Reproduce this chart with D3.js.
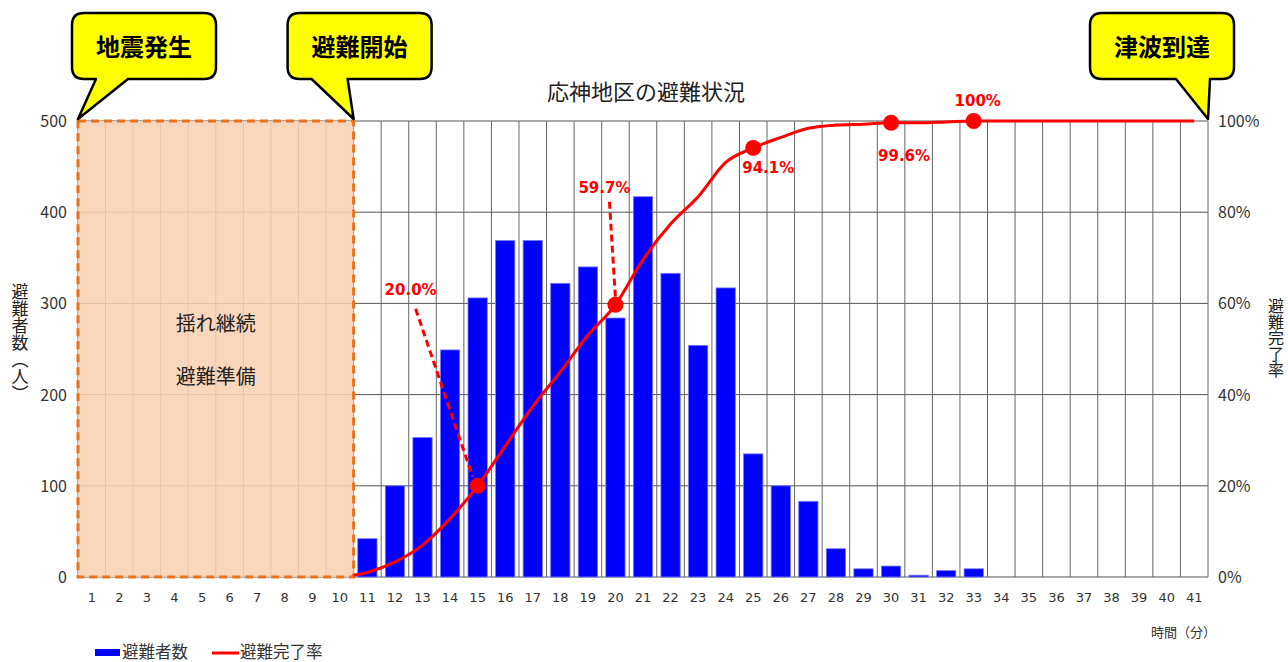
<!DOCTYPE html>
<html><head><meta charset="utf-8">
<script src="https://cdn.jsdelivr.net/npm/d3@7"></script>
<style>
html,body{margin:0;padding:0;background:#fff;}
svg{display:block;}
</style></head>
<body>
<svg id="c" width="1288" height="662"></svg>
<script>
// ---- data ----
const minutes = d3.range(1, 42);                  // 1..41 (分)
const evacuees = [0,0,0,0,0,0,0,0,0,0,
  42,100,153,249,306,369,369,322,340,284,417,333,254,317,135,100,83,31,9,12,2,7,9,
  0,0,0,0,0,0,0,0];                               // 避難者数（人）
const rateMinutes = d3.range(10, 42);             // 10..41
const completion = [0,
  1.0,3.3,7.0,12.8,20.0,28.7,37.4,45.0,53.0,59.7,69.6,77.4,83.4,90.9,94.1,96.4,98.4,99.1,99.3,99.6,99.6,99.8,100,
  100,100,100,100,100,100,100,100];               // 避難完了率（%）
const leftTicks = [0,100,200,300,400,500];
const rightTicks = [0,20,40,60,80,100];
const markedMinutes = [15,20,25,30,33];
const markLabels = ["20.0%","59.7%","94.1%","99.6%","100%"];
const callouts = [
  {text:"地震発生", minute:1, edge:"left"},
  {text:"避難開始", minute:10, edge:"right"},
  {text:"津波到達", minute:41, edge:"right"}
];

// ---- layout ----
const svg = d3.select("#c");
const L = 78, R = 1208, T = 121, B = 577;
const x = d3.scaleBand().domain(minutes).range([L, R]).paddingInner(0.3).paddingOuter(0.15);
const step = x.step();
const cx = m => x(m) + x.bandwidth()/2;
const edgeL = m => cx(m) - step/2;
const edgeR = m => cx(m) + step/2;
const y = d3.scaleLinear().domain([0,500]).range([B, T]);
const yR = d3.scaleLinear().domain([0,100]).range([B, T]);
const jp = "'Noto Sans CJK JP','Noto Sans',sans-serif";
const num = "'DejaVu Sans',Verdana,sans-serif";

// gridlines
const g = svg.append("g");
g.selectAll("line.h").data(leftTicks).join("line")
  .attr("x1", L).attr("x2", R).attr("y1", d => y(d)).attr("y2", d => y(d))
  .attr("stroke", "#555").attr("stroke-width", 1);
g.selectAll("line.v").data(d3.range(0, minutes.length + 1)).join("line")
  .attr("x1", i => i < minutes.length ? edgeL(minutes[i]) : edgeR(minutes[minutes.length-1]))
  .attr("x2", i => i < minutes.length ? edgeL(minutes[i]) : edgeR(minutes[minutes.length-1]))
  .attr("y1", T).attr("y2", B)
  .attr("stroke", "#666").attr("stroke-width", 1);

// bars
svg.append("g").selectAll("rect").data(minutes.map((m,i)=>({m, v:evacuees[i]})).filter(d=>d.v>0)).join("rect")
  .attr("x", d => x(d.m)).attr("width", x.bandwidth())
  .attr("y", d => y(d.v)).attr("height", d => B - y(d.v))
  .attr("fill", "#0000ff").attr("stroke", "#7a7aff").attr("stroke-width", 0.8);

// shaded period 1..10
const shadeX0 = edgeL(1), shadeX1 = edgeR(10);
svg.append("rect").attr("x", shadeX0).attr("y", T).attr("width", shadeX1 - shadeX0).attr("height", B - T)
  .attr("fill", "#f8d2b4").attr("fill-opacity", 0.88)
  .attr("stroke", "#e8731c").attr("stroke-width", 3).attr("stroke-dasharray", "8,5");
svg.append("text").attr("x", (shadeX0+shadeX1)/2).attr("y", 331).attr("text-anchor","middle")
  .attr("font-family", jp).attr("font-size", 20).attr("fill","#222").text("揺れ継続");
svg.append("text").attr("x", (shadeX0+shadeX1)/2).attr("y", 384).attr("text-anchor","middle")
  .attr("font-family", jp).attr("font-size", 20).attr("fill","#222").text("避難準備");

// completion line
svg.append("clipPath").attr("id","lc").append("rect")
  .attr("x", shadeX1).attr("y", 0).attr("width", 1288).attr("height", 662);
const lineData = rateMinutes.map((m,i)=>({m, v:completion[i]}));
svg.append("path").datum(lineData)
  .attr("clip-path","url(#lc)")
  .attr("d", d3.line().x(d => cx(d.m)).y(d => yR(d.v)).curve(d3.curveMonotoneX))
  .attr("fill","none").attr("stroke","#ff0000").attr("stroke-width",3);

// markers + labels
const marks = markedMinutes.map((m,i)=>({m, v:completion[rateMinutes.indexOf(m)], label:markLabels[i]}));
const labelOffsets = [ // annotation placement relative to marker
  {dx:-67, dy:-191, lead:[-62,-177,-5,-9]},
  {dx:-11, dy:-112, lead:[-6,-103,0,-7]},
  {dx:15, dy:25, lead:null},
  {dx:13, dy:38, lead:null},
  {dx:4, dy:-15, lead:null}
];
marks.forEach((d,i) => {
  const px = cx(d.m), py = yR(d.v), o = labelOffsets[i];
  if (o.lead) {
    svg.append("line").attr("x1", px+o.lead[0]).attr("y1", py+o.lead[1])
      .attr("x2", px+o.lead[2]).attr("y2", py+o.lead[3])
      .attr("stroke","#ff0000").attr("stroke-width",3).attr("stroke-dasharray","7,4");
  }
  svg.append("circle").attr("cx", px).attr("cy", py).attr("r", 8).attr("fill","#ff0000");
  svg.append("text").attr("x", px + o.dx).attr("y", py + o.dy).attr("text-anchor","middle")
    .attr("font-family", num).attr("font-weight","bold").attr("font-size", 15)
    .attr("fill","#ff0000").text(d.label);
});

// axes labels
svg.append("g").selectAll("text").data(leftTicks).join("text")
  .attr("x", 67).attr("y", d => y(d) + 6).attr("text-anchor","end")
  .attr("font-family", jp).attr("font-size", 16).attr("fill","#333").text(d => d);
svg.append("g").selectAll("text").data(rightTicks).join("text")
  .attr("x", 1218).attr("y", d => yR(d) + 6).attr("text-anchor","start")
  .attr("font-family", jp).attr("font-size", 16).attr("fill","#333").text(d => d + "%");
svg.append("g").selectAll("text").data(minutes).join("text")
  .attr("x", d => cx(d)).attr("y", 602).attr("text-anchor","middle")
  .attr("font-family", num).attr("font-size", 13).attr("fill","#333").text(d => d);
svg.append("text").attr("x", 1216).attr("y", 637).attr("text-anchor","end")
  .attr("font-family", jp).attr("font-size", 13).attr("fill","#333").text("時間（分）");

// vertical axis titles
svg.append("text").attr("x", 20).attr("y", 283)
  .attr("style","writing-mode:vertical-rl;text-orientation:upright;")
  .attr("font-family", jp).attr("font-size", 17).attr("fill","#222").text("避難者数（人）");
svg.append("text").attr("x", 1276).attr("y", 298)
  .attr("style","writing-mode:vertical-rl;text-orientation:upright;")
  .attr("font-family", jp).attr("font-size", 16).attr("fill","#222").text("避難完了率");

// title
svg.append("text").attr("x", 646).attr("y", 100).attr("text-anchor","middle")
  .attr("font-family", jp).attr("font-size", 22).attr("fill","#222").text("応神地区の避難状況");

// callouts
const boxW = 144, boxH = 66, boxY = 13, rad = 12;
callouts.forEach(c => {
  const tipX = c.edge === "left" ? edgeL(c.minute) : edgeR(c.minute);
  let bx, t1, t2;
  if (c.text === "地震発生") { bx = tipX - 6; t1 = bx + 24; t2 = bx + 56; }
  else if (c.text === "避難開始") { bx = tipX - 66; t1 = bx + 24; t2 = bx + 60; }
  else { bx = tipX - 118; t1 = bx + 86; t2 = bx + 120; }
  const by = boxY, bb = by + boxH;
  const p = d3.path();
  p.moveTo(bx + rad, by);
  p.lineTo(bx + boxW - rad, by);
  p.quadraticCurveTo(bx + boxW, by, bx + boxW, by + rad);
  p.lineTo(bx + boxW, bb - rad);
  p.quadraticCurveTo(bx + boxW, bb, bx + boxW - rad, bb);
  p.lineTo(t2, bb);
  p.lineTo(tipX, T - 2);
  p.lineTo(t1, bb);
  p.lineTo(bx + rad, bb);
  p.quadraticCurveTo(bx, bb, bx, bb - rad);
  p.lineTo(bx, by + rad);
  p.quadraticCurveTo(bx, by, bx + rad, by);
  p.closePath();
  svg.append("path").attr("d", p.toString()).attr("fill","#ffff00")
    .attr("stroke","#000").attr("stroke-width",2.5).attr("stroke-linejoin","round");
  svg.append("text").attr("x", bx + boxW/2).attr("y", by + 43).attr("text-anchor","middle")
    .attr("font-family", jp).attr("font-weight","bold").attr("font-size", 24).attr("fill","#000").text(c.text);
});

// legend
svg.append("rect").attr("x", 95).attr("y", 649).attr("width", 25).attr("height", 7).attr("fill","#0000ff");
svg.append("text").attr("x", 122).attr("y", 658).attr("font-family", jp).attr("font-size", 16.5)
  .attr("fill","#333").text("避難者数");
svg.append("line").attr("x1", 212).attr("x2", 239).attr("y1", 653).attr("y2", 653)
  .attr("stroke","#ff0000").attr("stroke-width",3);
svg.append("text").attr("x", 240).attr("y", 658).attr("font-family", jp).attr("font-size", 16.5)
  .attr("fill","#333").text("避難完了率");
</script>
</body></html>
